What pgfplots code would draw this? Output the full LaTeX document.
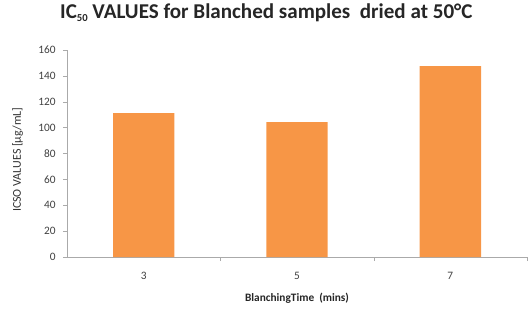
\documentclass[border=0pt]{standalone}
\usepackage{pgfplots}
\pgfplotsset{compat=1.18}
\usepackage{fontspec}
\setmainfont{Carlito}
\definecolor{barorange}{HTML}{F79646}
\definecolor{axgray}{RGB}{170,170,170}
\begin{document}
\begin{tikzpicture}
\path[use as bounding box] (-50.25pt,-41.25pt) rectangle (347.25pt,192.75pt);
\begin{axis}[
  at={(0pt,0pt)}, anchor=south west,
  scale only axis,
  width=345pt, height=155.25pt,
  xmin=0.5, xmax=3.5,
  ymin=0, ymax=160,
  ytick={0,20,...,160},
  xtick={1,2,3},
  xticklabels={3,5,7},
  minor xtick={1.5,2.5,3.5},
  axis x line=bottom, axis y line=left,
  axis line style={axgray,-},
  major x tick style={draw=none},
  minor x tick style={axgray},
  y tick style={axgray},
  tick align=outside,
  major tick length=3pt, minor tick length=3pt,
  ticklabel style={font=\fontsize{8.5}{9}\selectfont, text=black!75},
  /pgf/number format/assume math mode=true,
  xticklabel style={yshift=-5pt},
  yticklabel style={xshift=-2pt},
  ybar, bar width=46pt,
  title={\textbf{IC\raisebox{-2.5pt}{\fontsize{8}{8}\selectfont 50} VALUES for Blanched samples\ \ dried at 50°C}},
  title style={at={(0.5,1)}, anchor=center, xshift=-23pt, yshift=22pt, font=\fontsize{15.8}{17}\selectfont, text=black!85},
  xlabel={\textbf{BlanchingTime\ \ (mins)}},
  xlabel style={at={(0.5,0)}, anchor=center, yshift=-31pt, font=\fontsize{8.5}{9}\selectfont, text=black!85},
  ylabel={ICSO VALUES [µg/mL]},
  ylabel style={at={(0,0.47)}, anchor=center, yshift=37pt, font=\fontsize{9}{10}\selectfont, text=black!80},
]
\addplot[fill=barorange, draw=none] coordinates {(1,111.3) (2,104.3) (3,147.6)};
\end{axis}
\end{tikzpicture}
\end{document}
